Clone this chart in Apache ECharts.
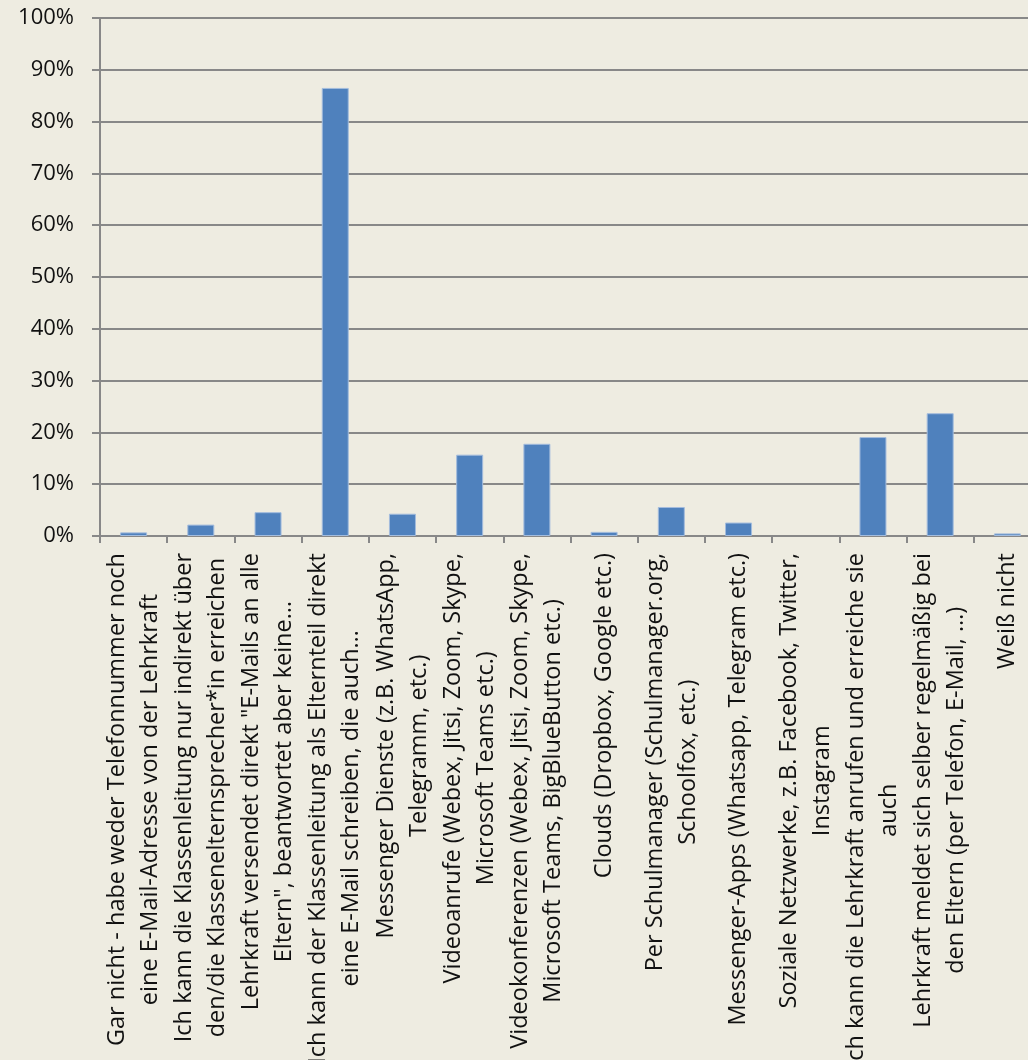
<!DOCTYPE html>
<html>
<head>
<meta charset="utf-8">
<title>Kontakt Lehrkraft</title>
<script src="https://cdn.jsdelivr.net/npm/echarts@6.0.0/dist/echarts.min.js"></script>
<style>
    html, body { margin: 0; padding: 0; background: #EEECE1; }
    #chart { width: 1028px; height: 1060px; }
</style>
</head>
<body>
<div id="chart"></div>
<script>
    // Antwortkategorien (Zeilenumbrüche wie im Original)
    var categories = [
        'Gar nicht - habe weder Telefonnummer noch\neine E-Mail-Adresse von der Lehrkraft',
        'Ich kann die Klassenleitung nur indirekt über\nden/die Klassenelternsprecher*in erreichen',
        'Lehrkraft versendet direkt "E-Mails an alle\nEltern", beantwortet aber keine…',
        'Ich kann der Klassenleitung als Elternteil direkt\neine E-Mail schreiben, die auch…',
        'Messenger Dienste (z.B. WhatsApp,\nTelegramm, etc.)',
        'Videoanrufe (Webex, Jitsi, Zoom, Skype,\nMicrosoft Teams etc.)',
        'Videokonferenzen (Webex, Jitsi, Zoom, Skype,\nMicrosoft Teams, BigBlueButton etc.)',
        'Clouds (Dropbox, Google etc.)',
        'Per Schulmanager (Schulmanager.org,\nSchoolfox, etc.)',
        'Messenger-Apps (Whatsapp, Telegram etc.)',
        'Soziale Netzwerke, z.B. Facebook, Twitter,\nInstagram',
        'Ich kann die Lehrkraft anrufen und erreiche sie\nauch',
        'Lehrkraft meldet sich selber regelmäßig bei\nden Eltern (per Telefon, E-Mail, …)',
        'Weiß nicht'
    ];
    // Anteile in Prozent
    var values = [0.7, 2.2, 4.6, 86.5, 4.3, 15.7, 17.8, 0.8, 5.6, 2.6, 0, 19.1, 23.7, 0.5];

    var chartDom = document.getElementById('chart');
    var myChart = echarts.init(chartDom);
    var font = '"Open Sans", sans-serif';
    var option = {
        backgroundColor: '#EEECE1',
        animation: false,
        grid: {
            left: 100,
            top: 18,
            right: -13,
            bottom: 524,
            containLabel: false,
            outerBoundsMode: 'none'
        },
        xAxis: {
            type: 'category',
            data: categories,
            axisLine: { lineStyle: { color: '#888888', width: 2 } },
            axisTick: { show: true, length: 7, lineStyle: { color: '#888888', width: 2 } },
            axisLabel: {
                interval: 0,
                rotate: 90,
                margin: 17,
                hideOverlap: false,
                formatter: function (v) {
                    return v.split('\n').map(function (s) { return '{c|' + s + '}'; }).join('\n');
                },
                rich: {
                    c: {
                        align: 'center',
                        fontSize: 23.5,
                        lineHeight: 33,
                        fontFamily: font,
                        color: '#111111'
                    }
                }
            }
        },
        yAxis: {
            type: 'value',
            min: 0,
            max: 100,
            interval: 10,
            axisLine: { show: true, lineStyle: { color: '#888888', width: 2 } },
            axisTick: { show: true, length: 8, lineStyle: { color: '#888888', width: 2 } },
            splitLine: { lineStyle: { color: '#888888', width: 2 } },
            axisLabel: {
                formatter: '{value}%',
                margin: 26,
                fontSize: 22,
                fontFamily: font,
                color: '#111111'
            }
        },
        series: [{
            type: 'bar',
            data: values.map(function (v) {
                return { value: v, itemStyle: { borderWidth: v > 0 ? 1 : 0 } };
            }),
            barWidth: 27,
            itemStyle: {
                color: '#4F81BD',
                borderColor: '#A3BCDD'
            }
        }]
    };
    option && myChart.setOption(option);
</script>
</body>
</html>
